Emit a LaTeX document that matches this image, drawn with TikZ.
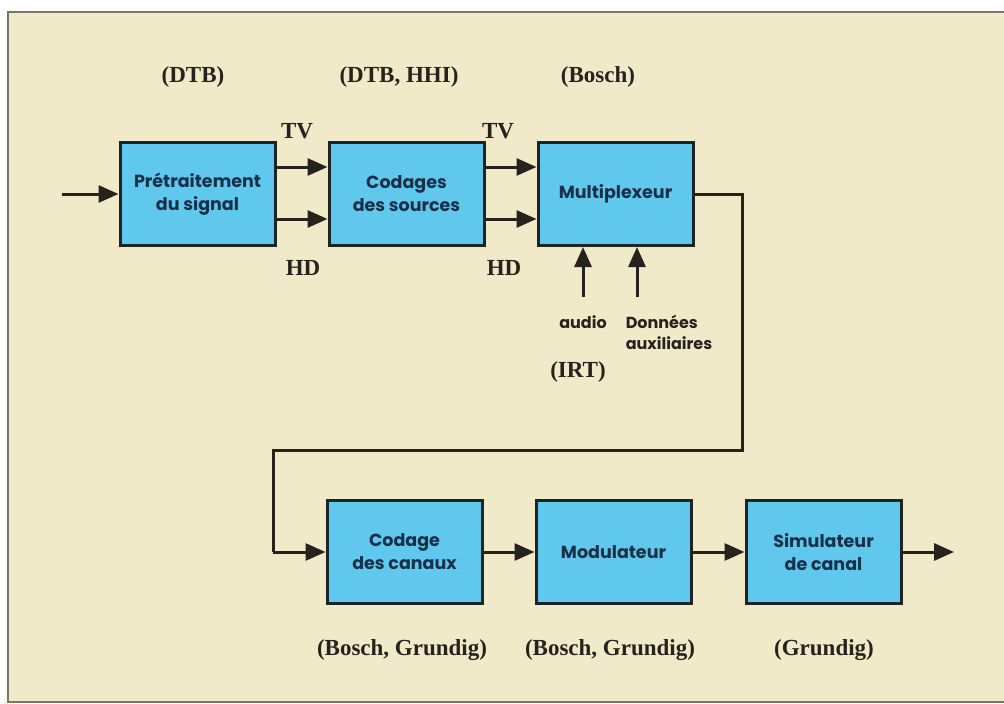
\documentclass[tikz,border=0pt]{standalone}
\usepackage{fontspec}
\setmainfont{Liberation Serif}
\newfontfamily\boxfont{Poppins}
\usetikzlibrary{
    arrows.meta,
    positioning,
    calc
}
\definecolor{paper}{RGB}{240,234,201}
\definecolor{frameline}{RGB}{120,118,108}
\definecolor{boxfill}{RGB}{96,200,236}
\definecolor{boxline}{RGB}{28,36,40}
\definecolor{boxtext}{RGB}{22,48,72}
\definecolor{ink}{RGB}{40,34,30}
\tikzstyle{stage} = [
    rectangle,
    draw=boxline,
    line width=3pt,
    fill=boxfill,
    minimum width=155pt,
    minimum height=103pt,
    align=center,
    text=boxtext,
    font=\boxfont\bfseries\fontsize{17.5}{23}\selectfont
]
\tikzstyle{flow} = [
    -{Triangle[length=20pt,width=17pt]},
    line width=3pt,
    draw=ink
]
\tikzstyle{wire} = [
    line width=3pt,
    draw=ink,
    line join=miter
]
\tikzstyle{origin} = [
    text=ink,
    font=\bfseries\fontsize{23}{26}\selectfont
]
\tikzstyle{signal} = [
    text=ink,
    font=\bfseries\fontsize{23}{24}\selectfont
]
\tikzstyle{inlabel} = [
    text=ink,
    align=left,
    font=\boxfont\bfseries\fontsize{16}{21}\selectfont
]
\begin{document}
\begin{tikzpicture}[x=1pt, y=-1pt, node distance=51pt]
    \useasboundingbox (0,0) rectangle (1004,704);
    % Paper background
    \fill[white] (0,0) rectangle (1004,704);
    \draw[frameline, fill=paper, line width=1.2pt] (8,12) rectangle (1012,702);

    % Source chain
    \node[stage] (pre) at (197.5,194) {Prétraitement\\du signal};
    \node[stage, right=of pre] (cod) {Codages\\des sources};
    \node[stage, right=of cod] (mux) {Multiplexeur};

    % Channel chain
    \node[stage] (can) at (404.5,552) {Codage\\des canaux};
    \node[stage, right=of can] (mod) {Modulateur};
    \node[stage, right=52pt of mod] (sim) {Simulateur\\de canal};

    % Connectors
    \coordinate (in) at (62,194);
    \coordinate (out) at (954,552);
    \coordinate (loopR) at (742,450);
    \coordinate (loopL) at (273,450);
    \coordinate (audioIn) at (583,297);
    \coordinate (auxIn) at (637,297);
    \draw[flow] (in) -- (pre.west);
    \draw[flow] ([yshift=27pt]pre.east) -- ([yshift=27pt]cod.west);
    \draw[flow] ([yshift=-25pt]pre.east) -- ([yshift=-25pt]cod.west);
    \draw[flow] ([yshift=27pt]cod.east) -- ([yshift=27pt]mux.west);
    \draw[flow] ([yshift=-25pt]cod.east) -- ([yshift=-25pt]mux.west);
    \draw[flow] (audioIn) -- (audioIn |- mux.south);
    \draw[flow] (auxIn) -- (auxIn |- mux.south);
    \draw[wire] (mux.east) -| (loopR) -- (loopL) -- (loopL |- can.west);
    \draw[flow] (loopL |- can.west) -- (can.west);
    \draw[flow] (can) -- (mod);
    \draw[flow] (mod) -- (sim);
    \draw[flow] (sim.east) -- (out);

    % Signal labels
    \node[signal] (tv1) at (297,131) {TV};
    \node[signal] (hd1) at (303,268) {HD};
    \node[signal] (tv2) at (498,131) {TV};
    \node[signal] (hd2) at (504,268) {HD};
    \node[inlabel] (audio) at (583,322) {audio};
    \node[inlabel] (aux) at (669,332) {Données\\auxiliaires};

    % Partners
    \node[origin] (preBy) at (193,77) {(DTB)};
    \node[origin] (codBy) at (399,77) {(DTB, HHI)};
    \node[origin] (muxBy) at (598,77) {(Bosch)};
    \node[origin] (audioBy) at (578,372) {(IRT)};
    \node[origin] (canBy) at (402,650) {(Bosch, Grundig)};
    \node[origin] (modBy) at (610,650) {(Bosch, Grundig)};
    \node[origin] (simBy) at (824,650) {(Grundig)};
\end{tikzpicture}
\end{document}
